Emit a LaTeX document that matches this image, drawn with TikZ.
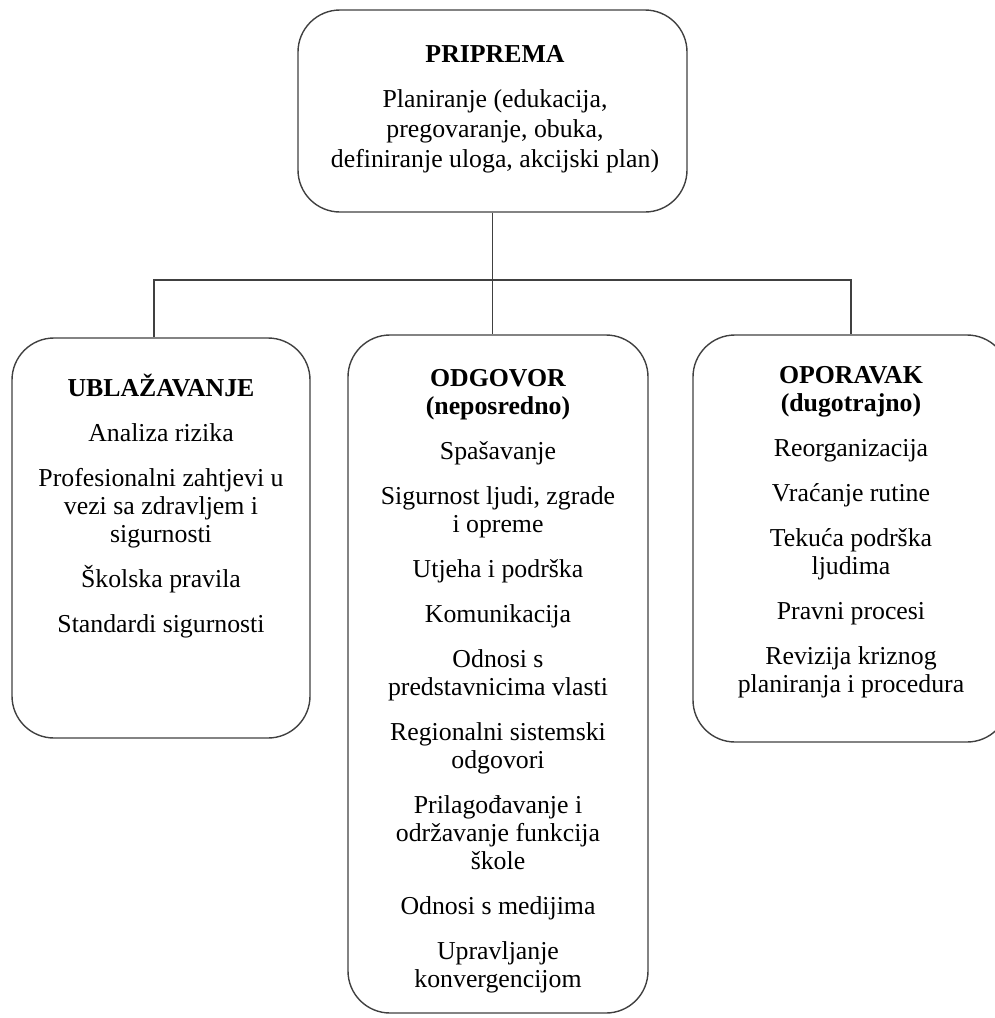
\documentclass[tikz,border=0pt]{standalone}
\usepackage{fontspec}
\setmainfont{Liberation Serif}
\usetikzlibrary{calc,positioning}
\tikzset{
	phase/.style={draw=black!75, line width=0.7pt, rounded corners=21pt, inner sep=0pt},
	phasetext/.style={anchor=base, align=center, inner sep=0pt, font=\fontsize{12.9}{14}\selectfont},
	link/.style={draw=black!75, line width=0.7pt}
}

\begin{document}
\begin{tikzpicture}[x=0.5pt, y=-0.5pt]
		%%%%% START %%%%%
		\useasboundingbox (0,0) rectangle (995,1018);
		\begin{scope}
		\clip (0,0) rectangle (995,1018);
		
		\node[phase, minimum width=194.5pt, minimum height=101pt] (pripr) at (492.5,111) {};
		\node[phase, minimum width=149pt, minimum height=200pt] (ublaz) at (161,538) {};
		\node[phase, minimum width=150pt, minimum height=339pt] (odgov) at (498,674) {};
		\node[phase, minimum width=158pt, minimum height=203.5pt] (oporav) at (851,538.5) {};
		
		% text anchored at the baseline of its last line
		\node[phasetext, font=\fontsize{12.9}{15}\selectfont] (priprtxt) at (495,167) {\textbf{PRIPREMA}\\[7.5pt]
			Planiranje (edukacija,\\ pregovaranje, obuka,\\ definiranje uloga, akcijski plan)};
		
		\node[phasetext] (ublaztxt) at (161,632) {\textbf{UBLAŽAVANJE}\\[8.5pt]
			Analiza rizika\\[8.5pt]
			Profesionalni zahtjevi u\\ vezi sa zdravljem i\\ sigurnosti\\[8.5pt]
			Školska pravila\\[8.5pt]
			Standardi sigurnosti};
		
		\node[phasetext] (odgovtxt) at (498,987) {\textbf{ODGOVOR}\\ \textbf{(neposredno)}\\[8.5pt]
			Spašavanje\\[8.5pt]
			Sigurnost ljudi, zgrade\\ i opreme\\[8.5pt]
			Utjeha i podrška\\[8.5pt]
			Komunikacija\\[8.5pt]
			Odnosi s\\ predstavnicima vlasti\\[8.5pt]
			Regionalni sistemski\\ odgovori\\[8.5pt]
			Prilagođavanje i\\ održavanje funkcija\\ škole\\[8.5pt]
			Odnosi s medijima\\[8.5pt]
			Upravljanje\\ konvergencijom};
		
		\node[phasetext] (oporavtxt) at (851,692) {\textbf{OPORAVAK}\\ \textbf{(dugotrajno)}\\[8.5pt]
			Reorganizacija\\[8.5pt]
			Vraćanje rutine\\[8.5pt]
			Tekuća podrška\\ ljudima\\[8.5pt]
			Pravni procesi\\[8.5pt]
			Revizija kriznog\\ planiranja i procedura};
		\end{scope}
		
		% connectors
		\coordinate (bus) at (492.5,280);
		\draw[link] (pripr.south) -- (pripr.south |- odgov.north);
		\draw[link] ([xshift=-3.5pt]ublaz.north) |- (bus) -| (oporav.north);
		
		%%%%% END %%%%%
	\end{tikzpicture}
\end{document}
